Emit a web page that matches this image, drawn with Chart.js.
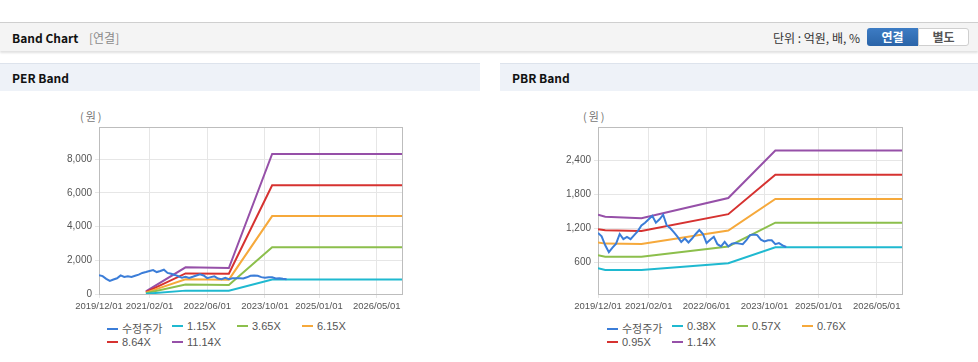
<!DOCTYPE html>
<html>
<head>
<meta charset="utf-8">
<script src="https://cdn.jsdelivr.net/npm/chart.js@4.4.0/dist/chart.umd.min.js"></script>
<style>
  body { margin: 0; width: 978px; height: 362px; background: #fff; position: relative; overflow: hidden;
         font-family: "Noto Sans CJK KR", "Noto Sans", Arial, sans-serif; }
  .topbar { position: absolute; left: 0; top: 22px; width: 978px; height: 28px; background: #f4f4f4;
            border-top: 1px solid #cfcfcf; box-shadow: 0 2px 2px rgba(0,0,0,0.12); }
  .topbar .title { position: absolute; left: 12px; top: 6px; font-size: 12px; font-weight: bold; color: #111; }
  .topbar .sub { position: absolute; left: 89px; top: 6px; font-size: 12px; color: #8a8a8a; }
  .topbar .unit { position: absolute; right: 118px; top: 6px; font-size: 12px; color: #333; }
  .btn { position: absolute; top: 5px; width: 51px; height: 18px; font-size: 12px; font-weight: bold;
         text-align: center; line-height: 18px; box-sizing: border-box; }
  .btn.on { left: 867px; background: linear-gradient(#3d7cc4, #2a64a8); color: #fff; border-radius: 3px 0 0 3px; }
  .btn.off { left: 918px; background: #fff; color: #555; border: 1px solid #cfcfcf; border-radius: 0 3px 3px 0; line-height: 16px; }
  .panelhead { position: absolute; top: 63px; height: 27px; background: #eef2f8; border-top: 1px solid #dde3ec; }
  .panelhead span { position: absolute; left: 12px; top: 5px; font-size: 12px; font-weight: bold; color: #111; }
  .unitlbl { position: absolute; top: 108px; font-size: 11px; color: #777; letter-spacing: 2px; }
  canvas { position: absolute; }
  .legend { position: absolute; font-size: 11px; color: #555; font-family: Arial, "Liberation Sans", "Noto Sans CJK KR", sans-serif; }
  .legend .item { position: absolute; white-space: nowrap; }
  .legend .swatch { display: inline-block; width: 11px; height: 2px; vertical-align: middle; margin-right: 4px; position: relative; top: -1px; }
</style>
</head>
<body>
<div class="topbar">
  <span class="title">Band Chart</span><span class="sub">[연결]</span>
  <span class="unit">단위 : 억원, 배, %</span>
  <div class="btn on">연결</div><div class="btn off">별도</div>
</div>
<div class="panelhead" style="left:0;width:480px"><span>PER Band</span></div>
<div class="panelhead" style="left:500px;width:478px"><span>PBR Band</span></div>
<div class="unitlbl" style="left:80px">(원)</div>
<div class="unitlbl" style="left:583px">(원)</div>
<canvas id="perChart" width="380" height="225" style="left:40px;top:95px"></canvas>
<canvas id="pbrChart" width="380" height="225" style="left:540px;top:95px"></canvas>
<div class="legend" id="perLegend" style="left:107px;top:320px"></div>
<div class="legend" id="pbrLegend" style="left:607px;top:320px"></div>
<script>
// x axis = months since 2019/12
const tickMonths = [0, 14, 30, 46, 61, 77];
const tickLabels = ['2019/12/01', '2021/02/01', '2022/06/01', '2023/10/01', '2025/01/01', '2026/05/01'];

// 수정주가, monthly from 2019/12
const price = [1120, 1060, 900, 780, 860, 930, 1100, 1010, 1050, 1010, 1080, 1150, 1250, 1300,
  1360, 1420, 1300, 1360, 1440, 1250, 1200, 1130, 1050, 960, 1020, 950, 1020, 1100, 1170, 1100,
  940, 1000, 1050, 920, 880, 960, 880, 930, 940, 930, 920, 990, 1080, 1090, 1080, 1000, 970,
  990, 990, 920, 940, 900, 870];

// PER band breakpoints
const perMonths = [13, 24, 36, 48, 84];
const per115 = [15, 200, 195, 860, 860];
const per365 = [50, 560, 540, 2770, 2770];
const per615 = [80, 870, 850, 4620, 4620];
const per864 = [110, 1220, 1200, 6440, 6440];
const per1114 = [150, 1580, 1540, 8300, 8300];
const perLabels = ['1.15X', '3.65X', '6.15X', '8.64X', '11.14X'];
const perYTicks = [0, 2000, 4000, 6000, 8000];

// PBR band breakpoints
const pbrMonths = [0, 2, 12, 36, 49, 84];
const pbr038 = [495, 465, 465, 585, 865, 865];
const pbr057 = [725, 700, 700, 880, 1300, 1300];
const pbr076 = [950, 930, 925, 1160, 1720, 1720];
const pbr095 = [1185, 1165, 1155, 1450, 2145, 2145];
const pbr114 = [1440, 1405, 1380, 1735, 2575, 2575];
const pbrLabels = ['0.38X', '0.57X', '0.76X', '0.95X', '1.14X'];
const pbrYTicks = [600, 1200, 1800, 2400];

const priceColor = '#3b7dd8';
const bandColors = ['#1fb9d0', '#8cbf4c', '#f6a93b', '#d63230', '#9650a8'];

const boxPlugin = {
    id: 'box',
    beforeDatasetsDraw(chart) {
        const a = chart.chartArea;
        const ctx = chart.ctx;
        ctx.save();
        ctx.strokeStyle = '#bdbdbd';
        ctx.lineWidth = 1;
        ctx.strokeRect(Math.round(a.left) + 0.5, Math.round(a.top) + 0.5,
            Math.round(a.right - a.left), Math.round(a.bottom - a.top));
        ctx.restore();
    }
};

const toPoints = (xs, ys) => ys.map((y, i) => ({x: xs[i], y: y}));

const makeChart = (id, legendId, months, bands, labels, yMin, yMax, yTicks, yWidth) => {
    const datasets = [{
        label: '수정주가',
        data: price.map((v, i) => ({x: i, y: v})),
        borderColor: priceColor,
        borderWidth: 2,
        pointRadius: 0,
        tension: 0
    }];
    bands.forEach((b, i) => {
        datasets.push({
            label: labels[i],
            data: toPoints(months, b),
            borderColor: bandColors[i],
            borderWidth: 2,
            pointRadius: 0,
            tension: 0
        });
    });

    new Chart(document.getElementById(id), {
        type: 'line',
        data: {datasets: datasets},
        options: {
            responsive: false,
            animation: false,
            layout: {padding: {top: 32, right: 18, left: 0, bottom: 0}},
            plugins: {legend: {display: false}, tooltip: {enabled: false}},
            scales: {
                x: {
                    type: 'linear', min: 0, max: 84,
                    afterBuildTicks: s => { s.ticks = tickMonths.map(v => ({value: v})); },
                    afterFit: s => { s.height = 26; },
                    grid: {color: '#e6e6e6', tickLength: 4},
                    border: {display: false},
                    ticks: {
                        color: '#555', font: {size: 9.5, family: 'Arial, "Liberation Sans", sans-serif'},
                        maxRotation: 0, autoSkip: false, padding: 3,
                        callback: v => tickLabels[tickMonths.indexOf(v)]
                    }
                },
                y: {
                    min: yMin, max: yMax,
                    afterBuildTicks: s => { s.ticks = yTicks.map(v => ({value: v})); },
                    afterFit: s => { s.width = yWidth; },
                    grid: {color: '#e6e6e6', tickLength: 4},
                    border: {display: false},
                    ticks: {
                        color: '#555', font: {size: 10, family: 'Arial, "Liberation Sans", sans-serif'},
                        padding: 3,
                        callback: v => v.toLocaleString('en-US')
                    }
                }
            }
        },
        plugins: [boxPlugin]
    });

    // html legend, fixed columns like the original
    const legend = document.getElementById(legendId);
    datasets.forEach((d, i) => {
        const item = document.createElement('div');
        item.className = 'item';
        item.style.left = (i % 4) * 65 + 'px';
        item.style.top = Math.floor(i / 4) * 16 + 'px';
        item.innerHTML = '<span class="swatch" style="background:' + d.borderColor + '"></span>' + d.label;
        legend.appendChild(item);
    });
};

window.addEventListener('DOMContentLoaded', () => {
    makeChart('perChart', 'perLegend', perMonths, [per115, per365, per615, per864, per1114],
        perLabels, 0, 9900, perYTicks, 59);
    makeChart('pbrChart', 'pbrLegend', pbrMonths, [pbr038, pbr057, pbr076, pbr095, pbr114],
        pbrLabels, 40, 2990, pbrYTicks, 58);
});
</script>
</body>
</html>
